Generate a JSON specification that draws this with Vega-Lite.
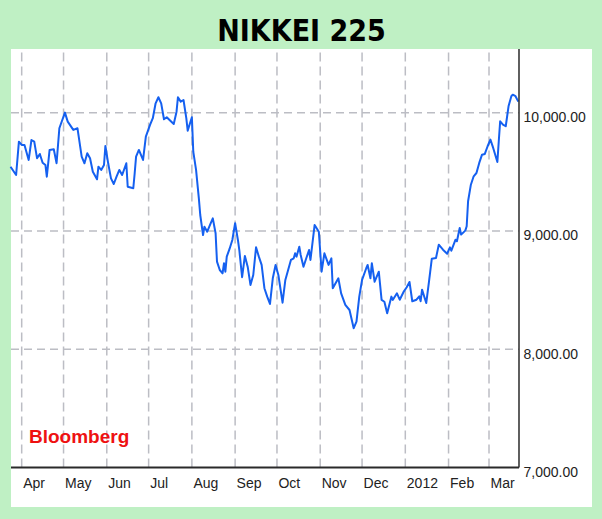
{
  "$schema": "https://vega.github.io/schema/vega-lite/v6.json",
  "width": 581,
  "height": 458,
  "autosize": {"type": "none"},
  "padding": {"left": 11, "top": 49, "right": 10, "bottom": 12},
  "background": "#bff0c4",
  "config": {"view": {"fill": "#ffffff", "stroke": null}},
  "title": {
    "text": "NIKKEI 225",
    "font": "DejaVu Sans Condensed, Liberation Sans, sans-serif",
    "fontSize": 30,
    "fontWeight": "bold",
    "color": "#000000",
    "anchor": "middle",
    "offset": 1
  },
  "datasets": {
    "months": [
      {"date": "2011-04-01"}, {"date": "2011-05-01"}, {"date": "2011-06-01"}, {"date": "2011-07-01"},
      {"date": "2011-08-01"}, {"date": "2011-09-01"}, {"date": "2011-10-01"}, {"date": "2011-11-01"},
      {"date": "2011-12-01"}, {"date": "2012-01-01"}, {"date": "2012-02-01"}, {"date": "2012-03-01"}
    ],
    "levels": [{"level": 8000}, {"level": 9000}, {"level": 10000}],
    "nikkei": [
      {"date": "2011-03-24", "close": 9543}, {"date": "2011-03-28", "close": 9473}, {"date": "2011-03-30", "close": 9755},
      {"date": "2011-04-01", "close": 9727}, {"date": "2011-04-03", "close": 9727}, {"date": "2011-04-06", "close": 9600},
      {"date": "2011-04-08", "close": 9769}, {"date": "2011-04-10", "close": 9755}, {"date": "2011-04-12", "close": 9615},
      {"date": "2011-04-14", "close": 9651}, {"date": "2011-04-16", "close": 9577}, {"date": "2011-04-18", "close": 9558},
      {"date": "2011-04-19", "close": 9459}, {"date": "2011-04-21", "close": 9685}, {"date": "2011-04-24", "close": 9691},
      {"date": "2011-04-26", "close": 9572}, {"date": "2011-04-28", "close": 9868}, {"date": "2011-05-02", "close": 10000},
      {"date": "2011-05-04", "close": 9924}, {"date": "2011-05-08", "close": 9854}, {"date": "2011-05-11", "close": 9868},
      {"date": "2011-05-14", "close": 9628}, {"date": "2011-05-16", "close": 9572}, {"date": "2011-05-18", "close": 9657},
      {"date": "2011-05-20", "close": 9615}, {"date": "2011-05-22", "close": 9501}, {"date": "2011-05-25", "close": 9437},
      {"date": "2011-05-26", "close": 9543}, {"date": "2011-05-28", "close": 9516}, {"date": "2011-05-30", "close": 9558},
      {"date": "2011-05-31", "close": 9719}, {"date": "2011-06-02", "close": 9572}, {"date": "2011-06-04", "close": 9445},
      {"date": "2011-06-06", "close": 9397}, {"date": "2011-06-08", "close": 9459}, {"date": "2011-06-10", "close": 9516},
      {"date": "2011-06-12", "close": 9473}, {"date": "2011-06-15", "close": 9572}, {"date": "2011-06-16", "close": 9374},
      {"date": "2011-06-20", "close": 9361}, {"date": "2011-06-21", "close": 9488}, {"date": "2011-06-22", "close": 9628},
      {"date": "2011-06-24", "close": 9685}, {"date": "2011-06-27", "close": 9600}, {"date": "2011-06-29", "close": 9797},
      {"date": "2011-07-02", "close": 9896}, {"date": "2011-07-04", "close": 9953}, {"date": "2011-07-06", "close": 10079},
      {"date": "2011-07-08", "close": 10130}, {"date": "2011-07-10", "close": 10079}, {"date": "2011-07-12", "close": 9944},
      {"date": "2011-07-14", "close": 9961}, {"date": "2011-07-16", "close": 9938}, {"date": "2011-07-19", "close": 9904},
      {"date": "2011-07-21", "close": 10008}, {"date": "2011-07-22", "close": 10130}, {"date": "2011-07-24", "close": 10093},
      {"date": "2011-07-26", "close": 10107}, {"date": "2011-07-28", "close": 9953}, {"date": "2011-07-29", "close": 9848},
      {"date": "2011-08-01", "close": 9961}, {"date": "2011-08-02", "close": 9670}, {"date": "2011-08-04", "close": 9516},
      {"date": "2011-08-06", "close": 9276}, {"date": "2011-08-07", "close": 9135}, {"date": "2011-08-09", "close": 8966},
      {"date": "2011-08-10", "close": 9036}, {"date": "2011-08-12", "close": 8994}, {"date": "2011-08-14", "close": 9051},
      {"date": "2011-08-16", "close": 9107}, {"date": "2011-08-18", "close": 8981}, {"date": "2011-08-19", "close": 8741},
      {"date": "2011-08-21", "close": 8670}, {"date": "2011-08-23", "close": 8642}, {"date": "2011-08-24", "close": 8727},
      {"date": "2011-08-25", "close": 8656}, {"date": "2011-08-26", "close": 8783}, {"date": "2011-08-28", "close": 8848},
      {"date": "2011-08-30", "close": 8924}, {"date": "2011-09-01", "close": 9065}, {"date": "2011-09-03", "close": 8924},
      {"date": "2011-09-04", "close": 8839}, {"date": "2011-09-06", "close": 8609}, {"date": "2011-09-08", "close": 8789},
      {"date": "2011-09-10", "close": 8698}, {"date": "2011-09-12", "close": 8544}, {"date": "2011-09-14", "close": 8628},
      {"date": "2011-09-16", "close": 8862}, {"date": "2011-09-18", "close": 8783}, {"date": "2011-09-20", "close": 8713},
      {"date": "2011-09-22", "close": 8516}, {"date": "2011-09-24", "close": 8445}, {"date": "2011-09-26", "close": 8383},
      {"date": "2011-09-28", "close": 8600}, {"date": "2011-09-30", "close": 8713}, {"date": "2011-10-02", "close": 8628},
      {"date": "2011-10-05", "close": 8394}, {"date": "2011-10-07", "close": 8586}, {"date": "2011-10-09", "close": 8670},
      {"date": "2011-10-11", "close": 8755}, {"date": "2011-10-13", "close": 8769}, {"date": "2011-10-14", "close": 8811},
      {"date": "2011-10-15", "close": 8783}, {"date": "2011-10-17", "close": 8867}, {"date": "2011-10-18", "close": 8797},
      {"date": "2011-10-20", "close": 8698}, {"date": "2011-10-22", "close": 8769}, {"date": "2011-10-24", "close": 8839},
      {"date": "2011-10-25", "close": 8755}, {"date": "2011-10-28", "close": 9051}, {"date": "2011-10-31", "close": 8994},
      {"date": "2011-11-02", "close": 8656}, {"date": "2011-11-04", "close": 8811}, {"date": "2011-11-07", "close": 8713},
      {"date": "2011-11-09", "close": 8769}, {"date": "2011-11-10", "close": 8516}, {"date": "2011-11-14", "close": 8600},
      {"date": "2011-11-16", "close": 8473}, {"date": "2011-11-19", "close": 8375}, {"date": "2011-11-22", "close": 8332},
      {"date": "2011-11-25", "close": 8178}, {"date": "2011-11-27", "close": 8233}, {"date": "2011-11-29", "close": 8445},
      {"date": "2011-12-01", "close": 8586}, {"date": "2011-12-04", "close": 8685}, {"date": "2011-12-05", "close": 8713},
      {"date": "2011-12-07", "close": 8600}, {"date": "2011-12-08", "close": 8727}, {"date": "2011-12-10", "close": 8571},
      {"date": "2011-12-13", "close": 8656}, {"date": "2011-12-15", "close": 8417}, {"date": "2011-12-17", "close": 8402},
      {"date": "2011-12-19", "close": 8304}, {"date": "2011-12-22", "close": 8445}, {"date": "2011-12-23", "close": 8417},
      {"date": "2011-12-26", "close": 8473}, {"date": "2011-12-28", "close": 8419}, {"date": "2011-12-31", "close": 8490},
      {"date": "2012-01-02", "close": 8524}, {"date": "2012-01-04", "close": 8569}, {"date": "2012-01-06", "close": 8406},
      {"date": "2012-01-09", "close": 8419}, {"date": "2012-01-11", "close": 8448}, {"date": "2012-01-12", "close": 8406},
      {"date": "2012-01-13", "close": 8504}, {"date": "2012-01-16", "close": 8391}, {"date": "2012-01-18", "close": 8575},
      {"date": "2012-01-20", "close": 8766}, {"date": "2012-01-23", "close": 8772}, {"date": "2012-01-25", "close": 8884},
      {"date": "2012-01-28", "close": 8842}, {"date": "2012-01-31", "close": 8808}, {"date": "2012-02-02", "close": 8862},
      {"date": "2012-02-03", "close": 8833}, {"date": "2012-02-06", "close": 8926}, {"date": "2012-02-07", "close": 8913},
      {"date": "2012-02-09", "close": 9025}, {"date": "2012-02-10", "close": 8969}, {"date": "2012-02-13", "close": 9003},
      {"date": "2012-02-14", "close": 9040}, {"date": "2012-02-15", "close": 9251}, {"date": "2012-02-17", "close": 9391},
      {"date": "2012-02-19", "close": 9462}, {"date": "2012-02-21", "close": 9490}, {"date": "2012-02-23", "close": 9575},
      {"date": "2012-02-25", "close": 9645}, {"date": "2012-02-27", "close": 9651}, {"date": "2012-02-29", "close": 9716},
      {"date": "2012-03-02", "close": 9772}, {"date": "2012-03-04", "close": 9702}, {"date": "2012-03-07", "close": 9583},
      {"date": "2012-03-08", "close": 9758}, {"date": "2012-03-09", "close": 9927}, {"date": "2012-03-11", "close": 9899},
      {"date": "2012-03-13", "close": 9885}, {"date": "2012-03-15", "close": 10054}, {"date": "2012-03-17", "close": 10139},
      {"date": "2012-03-18", "close": 10152}, {"date": "2012-03-20", "close": 10139}, {"date": "2012-03-22", "close": 10093}
    ]
  },
  "layer": [
    {
      "data": {"name": "months"},
      "mark": {"type": "rule", "stroke": "#bcbdc4", "strokeWidth": 1.5, "strokeDash": [9, 5]},
      "encoding": {
        "x": {"field": "date", "type": "temporal", "scale": {"type": "utc"}, "title": null},
        "y": {"datum": 7000},
        "y2": {"datum": 10538}
      }
    },
    {
      "data": {"name": "levels"},
      "mark": {"type": "rule", "stroke": "#bcbdc4", "strokeWidth": 1.5, "strokeDash": [8, 5]},
      "encoding": {
        "y": {"field": "level", "type": "quantitative", "title": null},
        "x": {"datum": {"year": 2011, "month": 3, "date": 24, "hours": 8, "utc": true}, "type": "temporal", "scale": {"type": "utc"}},
        "x2": {"datum": {"year": 2012, "month": 3, "date": 22, "hours": 12, "utc": true}}
      }
    },
    {
      "data": {"name": "nikkei"},
      "mark": {"type": "line", "color": "#1560f0", "strokeWidth": 2, "strokeJoin": "round"},
      "encoding": {
        "x": {
          "field": "date",
          "type": "temporal",
          "title": null,
          "scale": {
            "type": "utc",
            "domain": [
              {"year": 2011, "month": 3, "date": 24, "hours": 8, "utc": true},
              {"year": 2012, "month": 5, "date": 13, "hours": 20, "utc": true}
            ]
          },
          "axis": {
            "orient": "bottom",
            "offset": -39,
            "values": [
              {"year": 2011, "month": 4, "date": 1, "utc": true}, {"year": 2011, "month": 5, "date": 1, "utc": true},
              {"year": 2011, "month": 6, "date": 1, "utc": true}, {"year": 2011, "month": 7, "date": 1, "utc": true},
              {"year": 2011, "month": 8, "date": 1, "utc": true}, {"year": 2011, "month": 9, "date": 1, "utc": true},
              {"year": 2011, "month": 10, "date": 1, "utc": true}, {"year": 2011, "month": 11, "date": 1, "utc": true},
              {"year": 2011, "month": 12, "date": 1, "utc": true}, {"year": 2012, "month": 1, "date": 1, "utc": true},
              {"year": 2012, "month": 2, "date": 1, "utc": true}, {"year": 2012, "month": 3, "date": 1, "utc": true}
            ],
            "labelExpr": "utcmonth(datum.value) == 0 ? utcFormat(datum.value, '%Y') : utcFormat(datum.value, '%b')",
            "labelAlign": "left",
            "labelBaseline": "top",
            "labelPadding": 8,
            "labelOffset": 1,
            "labelFont": "Liberation Sans",
            "labelFontSize": 14,
            "labelColor": "#222222",
            "labelOverlap": false,
            "labelFlush": false,
            "ticks": false,
            "domain": false,
            "grid": false,
            "title": null
          }
        },
        "y": {
          "field": "close",
          "type": "quantitative",
          "title": null,
          "scale": {"domain": [6667, 10538], "nice": false, "zero": false},
          "axis": {
            "orient": "right",
            "offset": -73,
            "values": [7000, 8000, 9000, 10000],
            "format": ",.2f",
            "labelAlign": "left",
            "labelBaseline": "top",
            "labelPadding": 4,
            "labelOffset": -2,
            "labelFont": "Liberation Sans",
            "labelFontSize": 14,
            "labelColor": "#222222",
            "labelOverlap": false,
            "labelFlush": false,
            "ticks": false,
            "domain": false,
            "grid": false,
            "title": null
          }
        }
      }
    },
    {
      "data": {"values": [{}]},
      "mark": {"type": "rule", "stroke": "#2a2a2a", "strokeWidth": 1.5},
      "encoding": {
        "x": {"datum": {"year": 2012, "month": 3, "date": 22, "hours": 12, "utc": true}, "type": "temporal", "scale": {"type": "utc"}},
        "y": {"datum": 7000},
        "y2": {"datum": 10538}
      }
    },
    {
      "data": {"values": [{}]},
      "mark": {"type": "rule", "stroke": "#2a2a2a", "strokeWidth": 2},
      "encoding": {
        "y": {"datum": 7000},
        "x": {"datum": {"year": 2011, "month": 3, "date": 24, "hours": 8, "utc": true}, "type": "temporal", "scale": {"type": "utc"}},
        "x2": {"datum": {"year": 2012, "month": 3, "date": 22, "hours": 12, "utc": true}}
      }
    },
    {
      "data": {"values": [{}]},
      "mark": {"type": "text", "text": "Bloomberg", "font": "Liberation Sans", "fontSize": 19, "fontWeight": "bold", "color": "#ee1111", "align": "left", "baseline": "alphabetic"},
      "encoding": {
        "x": {"datum": {"year": 2011, "month": 4, "date": 6, "hours": 5, "utc": true}, "type": "temporal", "scale": {"type": "utc"}},
        "y": {"datum": 7207}
      }
    }
  ]
}
